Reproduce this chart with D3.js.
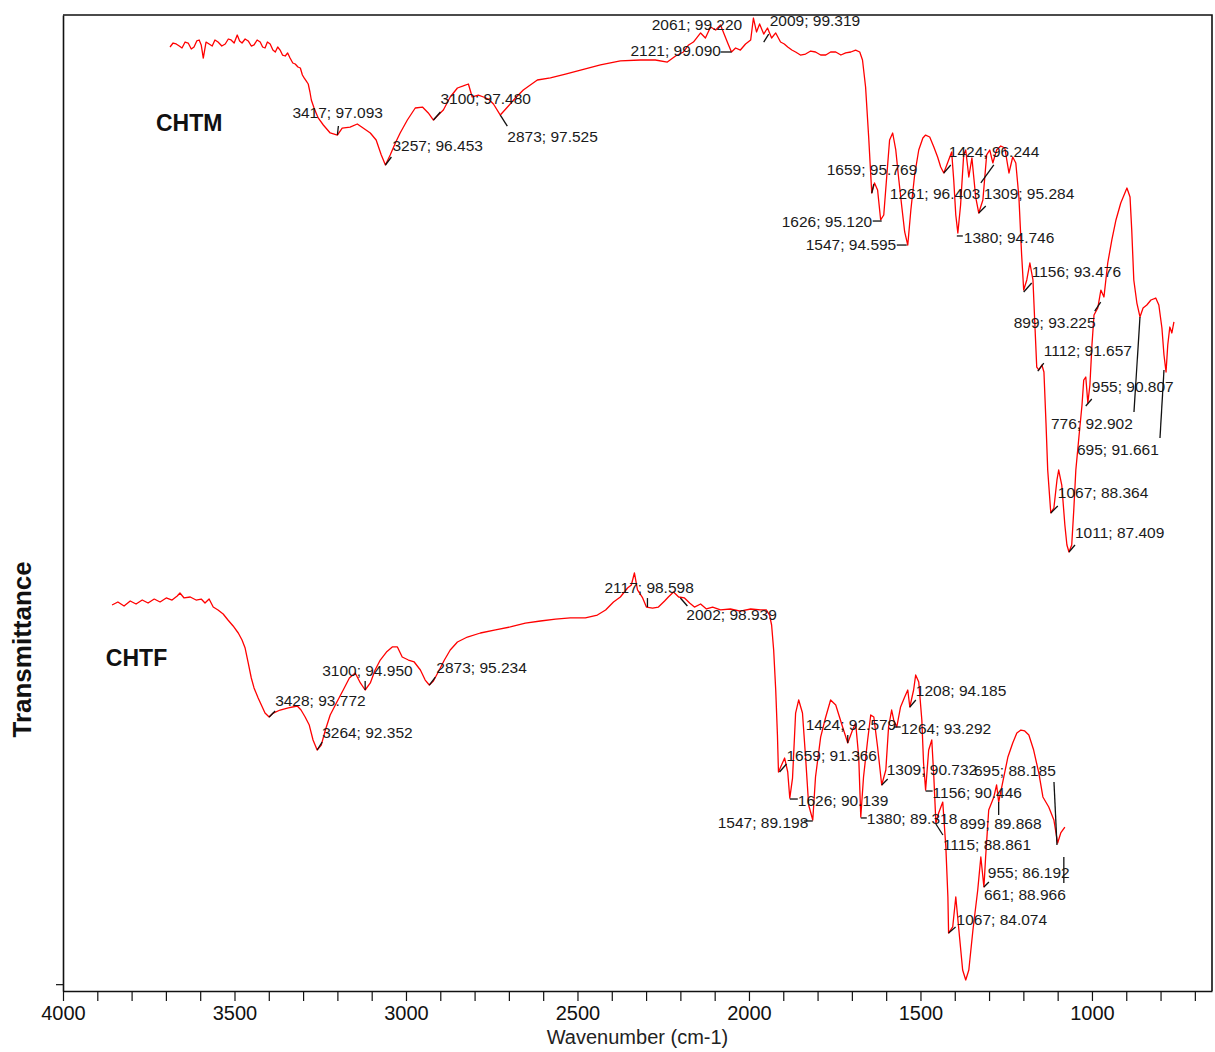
<!DOCTYPE html>
<html>
<head>
<meta charset="utf-8">
<script src="https://cdn.jsdelivr.net/npm/d3@7"></script>
<style>
  body { margin: 0; background: #fff; }
  text { font-family: "Liberation Sans", Arial, sans-serif; }
</style>
</head>
<body>
<svg id="ftir" width="1215" height="1052"></svg>
<script>
// Spectra: [wavenumber (cm-1), transmittance (a.u., offset stack)]
const chtm = [
  [3688,96.72],[3679,97.13],[3670,97.03],[3661,96.82],[3653,96.62],[3644,97.23],[3635,97.13],[3626,96.52],[3618,96.72],[3610,97.34],
  [3603,97.44],[3597,96.93],[3591,95.59],[3583,97.23],[3574,97.03],[3565,96.82],[3557,97.44],[3548,97.23],[3537,96.82],[3527,97.03],
  [3518,97.54],[3510,97.44],[3501,97.13],[3492,97.95],[3485,97.34],[3478,97.13],[3469,97.54],[3460,97.34],[3451,96.82],[3443,96.93],
  [3434,97.44],[3425,97.23],[3418,96.72],[3411,96.62],[3404,97.23],[3396,97.03],[3388,96.41],[3381,96.21],[3374,96.72],[3367,96.41],
  [3360,95.90],[3352,95.80],[3345,96.11],[3338,95.59],[3330,95.08],[3323,94.98],[3315,94.67],[3308,94.57],[3302,93.85],[3297,93.55],
  [3291,93.24],[3285,92.93],[3280,92.11],[3276,91.29],[3268,90.47],[3256,89.45],
  [3241,88.73],[3221,87.91],[3200,87.70],[3186,88.42],[3163,88.52],[3142,88.83],[3125,88.42],[3104,87.91],[3087,87.19],[3072,85.66],
  [3060,84.63],[3046,85.66],[3031,86.89],[3017,87.91],[2996,89.24],[2973,90.47],[2952,90.57],[2935,89.96],[2920,89.24],[2906,89.75],
  [2891,90.27],[2871,91.60],[2850,92.52],[2833,92.73],[2818,92.93],[2807,91.60],[2789,91.80],[2774,91.60],[2760,91.39],[2745,90.88],
  [2725,89.75],[2704,90.57],[2681,91.50],[2658,92.32],[2617,93.34],[2579,93.55],[2535,93.95],[2491,94.36],[2433,94.88],[2375,95.29],
  [2316,95.39],[2273,95.39],[2238,95.18],[2214,95.80],[2191,96.21],[2176,96.93],[2162,97.23],[2141,98.16],[2127,97.64],[2112,98.77],
  [2097,98.46],[2083,98.98],[2062,97.13],[2051,96.21],[2039,96.62],[2025,96.41],[2010,97.03],[1995,97.44],[1987,99.69],[1978,98.26],
  [1969,99.08],[1957,98.05],[1946,98.67],[1934,97.64],[1922,98.16],[1908,97.23],[1897,97.03],[1887,96.72],[1875,96.41],[1864,96.21],
  [1850,95.90],[1835,96.00],[1820,96.31],[1806,96.21],[1791,95.90],[1776,95.90],[1762,96.21],[1747,96.21],[1732,95.90],[1718,96.11],
  [1703,96.21],[1689,96.41],[1677,96.21],[1669,95.39],[1660,92.62],[1651,87.50],[1642,81.76],[1634,82.79],
  [1625,82.07],[1616,79.00],[1607,79.51],[1598,83.61],[1590,87.19],[1581,87.91],[1572,86.17],[1563,83.09],[1555,80.53],[1546,77.77],
  [1537,76.43],[1528,80.02],[1517,83.61],[1505,86.17],[1493,87.40],[1485,87.70],[1473,87.50],[1461,86.48],[1450,85.45],[1441,84.43],
  [1432,83.81],[1420,84.94],[1409,85.96],[1403,83.09],[1397,79.51],[1391,77.66],[1383,80.53],[1374,85.66],[1368,86.17],[1359,83.40],
  [1350,85.35],[1339,81.35],[1330,79.71],[1318,81.05],[1307,85.66],[1298,86.17],[1289,84.84],[1278,86.17],[1266,86.58],[1254,86.37],
  [1242,83.81],[1231,85.45],[1222,84.84],[1213,81.35],[1205,75.41],[1199,71.82],[1190,72.85],[1181,74.59],[1172,72.85],[1167,68.75],
  [1161,63.93],[1155,63.63],[1146,64.14],[1140,63.42],[1134,58.20],[1129,53.38],[1120,48.98],[1111,49.49],[1102,52.36],[1097,53.38],
  [1088,51.84],[1079,47.75],[1073,45.70],[1067,44.98],[1059,45.70],[1053,49.28],[1047,53.38],[1038,56.76],[1029,60.04],[1024,62.60],
  [1018,62.91],[1012,60.25],[1006,62.09],[1000,66.19],[994,69.26],[983,69.98],[974,71.82],[965,71.11],[954,74.59],[942,76.95],
  [930,79.00],[916,80.74],[898,82.27],[889,81.35],[884,77.97],[878,72.85],[869,70.49],[860,69.06],[851,69.98],[840,70.29],
  [828,70.80],[814,71.00],[805,70.29],[796,67.93],[790,65.16],[784,63.42],[779,66.19],[773,68.03],[767,67.42],[761,68.55]
];

const chtf = [
  [3857,39.55],[3840,39.86],[3822,39.45],[3804,39.96],[3787,39.65],[3769,40.06],[3752,39.75],[3734,40.16],[3717,39.86],[3699,40.27],
  [3682,40.06],[3667,40.47],[3659,40.78],[3647,40.27],[3629,40.37],[3612,40.06],[3597,40.16],[3586,39.75],[3574,40.16],[3562,39.34],
  [3548,39.04],[3533,38.63],[3519,38.01],[3504,37.40],[3489,36.68],[3478,35.96],[3469,35.14],[3460,33.61],[3451,32.07],[3443,31.05],
  [3431,30.02],[3419,29.10],[3411,28.48],[3399,28.07],[3387,28.48],[3367,28.79],[3343,29.00],[3317,29.20],[3306,28.79],[3294,28.07],
  [3282,27.25],[3271,25.72],[3259,24.69],[3247,25.20],[3235,26.74],[3221,28.28],[3203,29.51],[3183,30.84],[3165,32.07],[3148,32.58],
  [3133,31.56],[3119,30.84],[3104,31.56],[3090,32.89],[3075,33.91],[3057,34.73],[3040,35.25],[3025,35.25],[3011,34.22],[2993,33.91],
  [2976,33.71],[2958,32.89],[2944,31.86],[2932,31.35],[2920,31.76],[2906,32.68],[2888,33.91],[2871,34.94],[2850,35.76],[2821,36.27],
  [2783,36.68],[2739,36.99],[2696,37.30],[2652,37.70],[2608,37.91],[2564,38.11],[2521,38.22],[2477,38.22],[2442,38.52],[2418,39.04],
  [2395,39.86],[2375,40.37],[2354,41.29],[2343,41.60],[2334,42.83],[2325,41.09],[2310,40.27],[2299,39.34],[2281,39.24],[2264,39.34],
  [2246,39.96],[2235,40.37],[2220,40.88],[2205,40.37],[2188,40.27],[2173,39.75],[2159,39.34],[2141,39.65],[2124,39.14],[2106,39.34],
  [2083,39.04],[2054,39.14],[2025,38.93],[1995,39.14],[1966,39.04],[1949,39.04],[1940,38.52],[1934,37.50],[1928,34.94],[1922,30.84],
  [1917,26.23],[1914,22.44],[1905,23.16],[1896,23.87],[1887,22.44],[1881,19.77],[1873,21.82],[1864,28.48],[1855,29.82],[1844,28.48],
  [1835,23.98],[1826,19.06],[1814,17.52],[1806,21.93],[1791,26.02],[1777,27.97],[1762,29.82],[1747,29.30],[1727,27.05],[1712,25.41],
  [1698,26.74],[1689,27.46],[1680,23.98],[1674,17.83],[1666,21.93],[1654,25.72],[1645,28.28],[1636,28.07],[1625,25.00],[1613,21.11],
  [1601,22.64],[1593,27.05],[1584,28.79],[1578,27.77],[1569,27.05],[1558,29.10],[1546,30.12],[1537,30.84],[1531,29.10],[1520,30.84],
  [1514,32.38],[1505,31.66],[1496,27.77],[1491,23.36],[1485,20.59],[1476,24.69],[1467,25.72],[1461,21.93],[1455,17.21],[1447,18.24],
  [1435,19.36],[1426,14.75],[1420,9.63],[1418,5.94],[1406,6.56],[1397,9.63],[1388,6.25],[1377,2.15],[1368,1.13],[1359,2.15],
  [1347,6.25],[1333,10.35],[1324,13.73],[1315,10.66],[1310,13.73],[1301,18.55],[1286,19.88],[1278,21.11],[1272,19.36],[1257,21.93],
  [1245,23.98],[1231,25.41],[1219,26.43],[1207,26.74],[1196,26.64],[1184,26.23],[1170,24.69],[1155,22.34],[1143,19.88],[1126,18.85],
  [1111,17.52],[1100,15.16],[1091,16.19],[1079,16.80]
];

// Peak picks: [label, wavenumber of pin, transmittance of pin]
const chtmPeaks = [
  ["2061; 99.220", 2062, 97.13], ["2009; 99.319", 1957, 97.23], ["2121; 99.090", 2051, 96.21],
  ["3417; 97.093", 3200, 87.70], ["3257; 96.453", 3060, 84.63], ["3100; 97.480", 2920, 89.24],
  ["2873; 97.525", 2725, 89.75], ["1659; 95.769", 1642, 81.76], ["1261; 96.403", 1324, 82.79],
  ["1424; 96.244", 1432, 83.81], ["1309; 95.284", 1330, 79.71], ["1626; 95.120", 1613, 78.89],
  ["1547; 94.595", 1540, 76.43], ["1380; 94.746", 1394, 77.36], ["1156; 93.476", 1199, 71.62],
  ["899; 93.225", 992, 69.67], ["1112; 91.657", 1158, 63.52], ["955; 90.807", 1018, 59.94],
  ["776; 92.902", 860, 69.06], ["695; 91.661", 790, 63.63], ["1067; 88.364", 1120, 48.98],
  ["1011; 87.409", 1067, 44.98]
];
// leader end dx, dy, label dx, dy (px, from the pin)
const chtmPeakLayout = [
  [0,0,-76,-13], [5,-8,6,-16], [-11,0,-101,4],
  [1,-9,-45,-17], [6,-8,7,-14], [7,-8,7,-16],
  [7,11,7,27], [2,-9,-45,-18], [13,-18,-91,16],
  [7,-8,5,-16], [7,-7,5,-14], [-9,0,-100,6],
  [-10,0,-101,5], [6,0,7,7], [8,-9,8,-15],
  [6,-9,-81,17], [6,-8,6,-15], [6,-7,6,-14],
  [-6,95,-89,112], [-4,68,-87,85], [7,-7,7,-15],
  [6,-7,6,-14]
];

const chtfPeaks = [
  ["2117; 98.598", 2296, 39.34], ["2002; 98.939", 2200, 40.27], ["3428; 93.772", 3399, 28.07],
  ["3264; 92.352", 3259, 24.69], ["3100; 94.950", 3119, 30.84], ["2873; 95.234", 2932, 31.35],
  ["1659; 91.366", 1911, 22.44], ["1626; 90.139", 1881, 19.67], ["1547; 89.198", 1814, 17.42],
  ["1424; 92.579", 1712, 25.41], ["1264; 93.292", 1578, 27.05], ["1208; 94.185", 1531, 29.10],
  ["1380; 89.318", 1674, 17.73], ["1309; 90.732", 1613, 21.11], ["1156; 90.446", 1485, 20.49],
  ["695; 88.185", 1102, 14.96], ["899; 89.868", 1272, 19.36], ["1115; 88.861", 1455, 17.11],
  ["955; 86.192", 1082, 13.73], ["661; 88.966", 1315, 10.66], ["1067; 84.074", 1418, 5.94]
];
const chtfPeakLayout = [
  [0,-9,-43,-14], [7,8,6,22], [6,-6,6,-11],
  [5,-8,5,-12], [0,-9,-43,-14], [6,-8,7,-12],
  [7,-8,7,-11], [8,0,8,7], [-9,0,-95,7],
  [0,-8,-42,-13], [7,0,7,7], [6,-7,6,-11],
  [6,0,6,6], [6,-6,5,-10], [7,0,7,7],
  [-3,-63,-83,-69], [0,13,-39,27], [7,11,7,26],
  [0,26,-76,21], [5,-5,0,13], [7,-6,8,-8]
];

const seriesNames = ["CHTM", "CHTF"];
const xTicks = d3.range(4000, 649, -100);
const xLabels = [4000, 3500, 3000, 2500, 2000, 1500, 1000];
const xTitle = "Wavenumber (cm-1)";
const yTitle = "Transmittance";

const svg = d3.select("#ftir");
const width = +svg.attr("width");
const height = +svg.attr("height");

const x = d3.scaleLinear().domain([4000, 650]).range([63, 1212]);
const y = d3.scaleLinear().domain([0, 100]).range([991, 15]);

// frame (top + right)
svg.append("path")
  .attr("d", `M${x(4000)},${y(100)}H${x(650)}V${y(0)}`)
  .attr("fill", "none")
  .attr("stroke", "#111")
  .attr("stroke-width", 1.6);

// x axis
const xAxis = d3.axisBottom(x)
  .tickValues(xTicks)
  .tickSize(10)
  .tickSizeOuter(0)
  .tickPadding(5)
  .tickFormat((d) => (xLabels.includes(d) ? d : ""));
const xAxisG = svg.append("g")
  .attr("transform", `translate(0,${y(0)})`)
  .call(xAxis);
xAxisG.select(".domain").attr("stroke", "#111").attr("stroke-width", 1.6);
xAxisG.selectAll(".tick line").attr("stroke", "#111").attr("stroke-width", 1.2);
xAxisG.selectAll(".tick text")
  .attr("font-family", "Liberation Sans, Arial, sans-serif")
  .attr("font-size", 20)
  .attr("fill", "#111");

svg.append("text")
  .attr("x", x(2325))
  .attr("y", 1044)
  .attr("text-anchor", "middle")
  .attr("font-size", 20)
  .attr("fill", "#222")
  .text(xTitle);

// y axis (single unlabeled tick)
const yAxis = d3.axisLeft(y).tickValues([0.7]).tickSize(7).tickSizeOuter(0).tickFormat("");
const yAxisG = svg.append("g")
  .attr("transform", `translate(${x(4000)},0)`)
  .call(yAxis);
yAxisG.select(".domain").attr("stroke", "#111").attr("stroke-width", 1.6);
yAxisG.selectAll(".tick line").attr("stroke", "#111").attr("stroke-width", 1.2);

svg.append("text")
  .attr("transform", `translate(31,${y(35)}) rotate(-90)`)
  .attr("text-anchor", "middle")
  .attr("font-size", 26)
  .attr("font-weight", "bold")
  .attr("fill", "#111")
  .text(yTitle);

// spectra
const line = d3.line().x((d) => x(d[0])).y((d) => y(d[1]));
[chtm, chtf].forEach((s) => {
  svg.append("path")
    .datum(s)
    .attr("d", line)
    .attr("fill", "none")
    .attr("stroke", "#ff0000")
    .attr("stroke-width", 1.3)
    .attr("stroke-linejoin", "round");
});

// peak labels
const drawPeaks = (peaks, layout) => {
  const g = svg.append("g");
  peaks.forEach((p, i) => {
    const [label, w, v] = p;
    const [ex, ey, tx, ty] = layout[i];
    const px = x(w), py = y(v);
    if (ex || ey) {
      g.append("line")
        .attr("x1", px).attr("y1", py)
        .attr("x2", px + ex).attr("y2", py + ey)
        .attr("stroke", "#111")
        .attr("stroke-width", 1.3);
    }
    g.append("text")
      .attr("x", px + tx)
      .attr("y", py + ty)
      .attr("font-size", 15.5)
      .attr("fill", "#1a1a1a")
      .text(label);
  });
};
drawPeaks(chtmPeaks, chtmPeakLayout);
drawPeaks(chtfPeaks, chtfPeakLayout);

// series names
const namePos = [[3729, 88.9], [3875, 34.1]];
seriesNames.forEach((n, i) => {
  svg.append("text")
    .attr("x", x(namePos[i][0]))
    .attr("y", y(namePos[i][1]))
    .attr("dy", "0.35em")
    .attr("font-size", 23)
    .attr("font-weight", "bold")
    .attr("fill", "#111")
    .text(n);
});
</script>
</body>
</html>
